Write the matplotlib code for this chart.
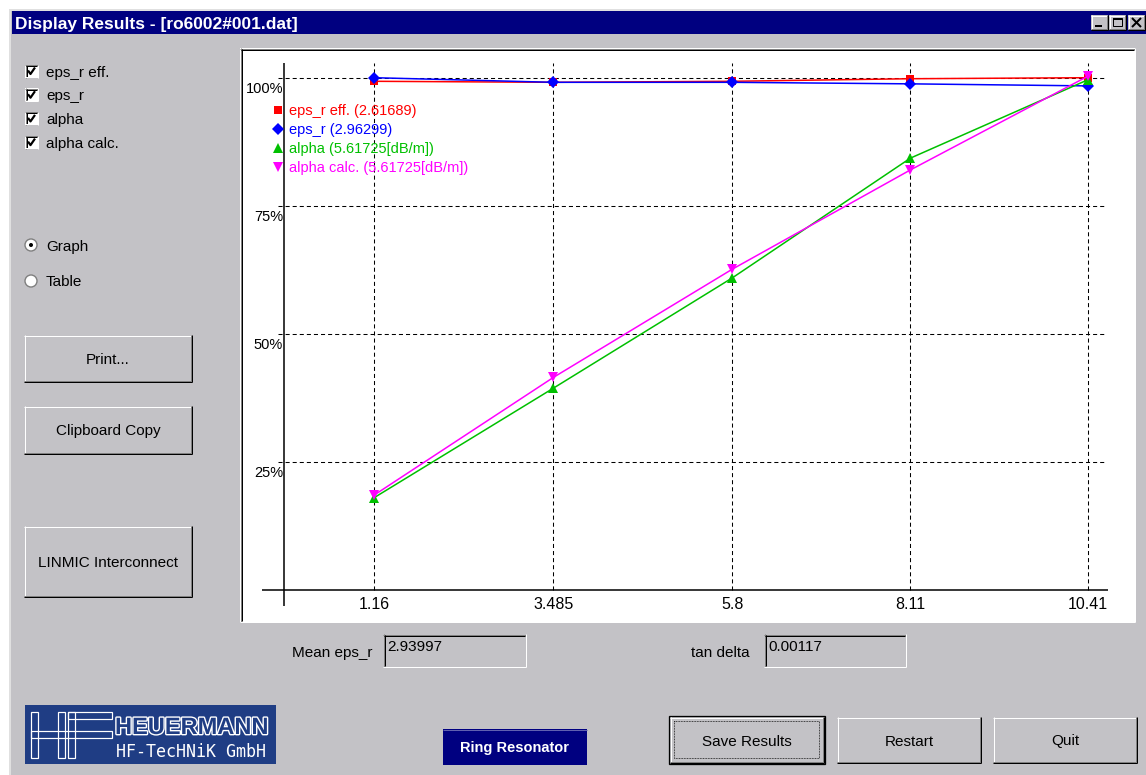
import matplotlib.pyplot as plt
import matplotlib.patheffects as pe
from matplotlib.patches import Rectangle, Circle
from matplotlib.lines import Line2D

plt.rcParams['font.family'] = ['Liberation Sans', 'DejaVu Sans']
NARROW = ['Liberation Sans Narrow', 'Liberation Sans', 'DejaVu Sans']

# ---- data (values normalised to the max, in %)
freq = [1.16, 3.485, 5.8, 8.11, 10.41]
freq_labels = ['1.16', '3.485', '5.8', '8.11', '10.41']
eps_r_eff = [99.3, 99.1, 99.3, 99.8, 100.0]
eps_r = [100.0, 99.1, 99.1, 98.8, 98.4]
alpha = [18.0, 39.4, 60.9, 84.3, 99.6]
alpha_calc = [18.5, 41.5, 62.6, 82.0, 100.3]
pct_ticks = [25, 50, 75, 100]
pct_labels = ['25%', '50%', '75%', '100%']

series = [eps_r_eff, eps_r, alpha, alpha_calc]
series_names = ['eps_r eff. (2.61689)', 'eps_r (2.96299)',
                'alpha (5.61725[dB/m])', 'alpha calc. (5.61725[dB/m])']
series_colors = ['#ff0000', '#0000ff', '#00c000', '#ff00ff']
series_markers = ['s', 'D', '^', 'v']
series_ms = [6, 6, 7, 7]

checkbox_labels = ['eps_r eff.', 'eps_r', 'alpha', 'alpha calc.']
mean_eps_r = '2.93997'
tan_delta = '0.00117'
title = 'Display Results - [ro6002#001.dat]'

W, H = 1146, 775
GRAY = '#c3c2c6'
DARK = '#808080'
NAVY = '#000080'
PX = 0.72  # points per pixel at dpi 100

fig = plt.figure(figsize=(W / 100, H / 100), dpi=100, facecolor='white')
ui = fig.add_axes([0, 0, 1, 1], zorder=0)
ui.set_xlim(0, W)
ui.set_ylim(H, 0)
ui.axis('off')


def line(xs, ys, c, lw=1, **kw):
    ui.plot(xs, ys, color=c, lw=lw * PX, solid_capstyle='butt', **kw)


def box(x0, y0, x1, y1, fc, ec='none', lw=0, **kw):
    ui.add_patch(Rectangle((x0, y0), x1 - x0, y1 - y0, fc=fc, ec=ec, lw=lw * PX, **kw))


def raised(x0, y0, x1, y1, label=None, default=False, size=11):
    box(x0, y0, x1, y1, GRAY)
    line([x0, x1], [y0 + .5, y0 + .5], 'white')
    line([x0 + .5, x0 + .5], [y0, y1], 'white')
    line([x0, x1], [y1 - 1.5, y1 - 1.5], DARK)
    line([x1 - 1.5, x1 - 1.5], [y0, y1], DARK)
    line([x0, x1], [y1 - .5, y1 - .5], 'black')
    line([x1 - .5, x1 - .5], [y0, y1], 'black')
    if default:
        box(x0 - 1, y0 - 1, x1 + 1, y1 + 1, 'none', 'black', 1.3)
        box(x0 + 4, y0 + 4, x1 - 5, y1 - 5, 'none', 'black', 0.8, ls=(0, (1, 1)))
    if label:
        ui.text((x0 + x1) / 2, (y0 + y1) / 2 + 5.5, label, ha='center', va='baseline',
                fontsize=size, color='black')


def sunken(x0, y0, x1, y1, fc):
    box(x0, y0, x1, y1, fc)
    line([x0, x1], [y0 + .5, y0 + .5], DARK)
    line([x0 + .5, x0 + .5], [y0, y1], DARK)
    line([x0 + 1, x1 - 1], [y0 + 1.5, y0 + 1.5], 'black')
    line([x0 + 1.5, x0 + 1.5], [y0 + 1, y1 - 1], 'black')
    line([x0, x1], [y1 - .5, y1 - .5], 'white')
    line([x1 - .5, x1 - .5], [y0, y1], 'white')


# ---- window frame + title bar
box(9, 9, W, H, GRAY)
line([9.5, 9.5], [9, H], '#e0e0e0', 2)
line([9, W], [9.5, 9.5], '#e0e0e0', 2)
box(12, 11, W, 34, NAVY)
ui.text(15, 28.5, title, color='white', fontsize=12.5, fontweight='bold', va='baseline')
for bx in [1091, 1109, 1128]:
    raised(bx, 15, bx + 17, 30)
line([1095, 1102], [26, 26], 'black', 2)
box(1113, 18, 1122, 26, 'none', 'black', 1)
line([1113, 1122], [18.5, 18.5], 'black', 2)
line([1132, 1141], [18, 27], 'black', 2)
line([1132, 1141], [27, 18], 'black', 2)

# ---- left control column
for i, lab in enumerate(checkbox_labels):
    cy = 71 + i * 23.7
    sunken(25, cy - 6.5, 38, cy + 6.5, 'white')
    line([28, 30.5, 35], [cy - 0.5, cy + 3, cy - 3.5], 'black', 2.2)
    ui.text(46, cy + 5.5, lab, fontsize=11, va='baseline')

for cy, lab, on in [(245, 'Graph', True), (281, 'Table', False)]:
    ui.add_patch(Circle((31, cy), 6, fc='white', ec=DARK, lw=1.4 * PX))
    if on:
        ui.add_patch(Circle((31, cy), 2, fc='black', ec='none'))
    ui.text(46, cy + 5.5, lab, fontsize=11, va='baseline')

raised(24, 335, 192, 382, 'Print...')
raised(24, 406, 192, 454, 'Clipboard Copy')
raised(24, 526, 192, 597, 'LINMIC Interconnect')

# ---- bottom row
ui.text(372, 657, 'Mean eps_r', fontsize=11, ha='right', va='baseline')
sunken(383, 634, 526, 667, GRAY)
ui.text(387, 651, mean_eps_r, fontsize=11, va='baseline', family=NARROW)
ui.text(750, 657, 'tan delta', fontsize=11, ha='right', va='baseline')
sunken(764, 634, 906, 667, GRAY)
ui.text(768, 651, tan_delta, fontsize=11, va='baseline', family=NARROW)

box(25, 705, 276, 764, '#1f3d84')
for (x0, y0, x1, y1) in [(31, 712, 38, 758), (58, 712, 65, 758), (31, 731, 112, 738),
                         (68, 712, 75, 758), (68, 712, 112, 719)]:
    box(x0, y0, x1, y1, 'none', 'white', 1.2)
ui.text(115, 734, 'HEUERMANN', fontsize=17, fontweight='bold', family=NARROW,
        color='#1f3d84', va='baseline',
        path_effects=[pe.withStroke(linewidth=2.0, foreground='white')])
ui.text(116, 757, 'HF-TecHNiK GmbH', fontsize=12, family='DejaVu Sans Mono',
        color='white', va='baseline')

box(443, 729, 587, 765, NAVY)
line([443, 587], [729.5, 729.5], '#6060b0')
ui.text(515, 752, 'Ring Resonator', color='white', fontsize=10.5, fontweight='bold',
        family=NARROW, ha='center', va='baseline')

raised(670, 717, 824, 763, 'Save Results', default=True)
raised(837, 717, 981, 763, 'Restart')
raised(993, 717, 1137, 763, 'Quit')

# ---- graph panel
sunken(240, 48, 1135, 622, 'white')

# chart axes placed over the panel (pixel extents of the drawn axis lines)
L, R, T, B = 262, 1108, 63, 606
ax = fig.add_axes([L / W, (H - B) / H, (R - L) / W, (B - T) / H], zorder=1)
ax.set_xlim(-0.29, 10.67)
ax.set_ylim(-3.12, 102.87)
ax.axis('off')

grid_kw = dict(colors='black', lw=0.75, linestyles=(0, (3.9, 2.9)), zorder=1)
ax.vlines(freq, 0, ax.get_ylim()[1], **grid_kw)
ax.hlines(pct_ticks, -0.08, 10.64, **grid_kw)
ax.axhline(0, color='black', lw=1.1, zorder=2)
ax.axvline(0, color='black', lw=1.1, zorder=2)

for x, lab in zip(freq, freq_labels):
    ax.annotate(lab, (x, 0), xytext=(0, -18.5 * PX), textcoords='offset points',
                ha='center', va='baseline', fontsize=11.5, family=NARROW)
for y, lab in zip(pct_ticks, pct_labels):
    ax.annotate(lab, (0, y), xytext=(-1.5 * PX, -15.5 * PX), textcoords='offset points',
                ha='right', va='baseline', fontsize=10.5)

handles = []
for vals, name, c, m, ms in zip(series, series_names, series_colors, series_markers, series_ms):
    ax.plot(freq, vals, color=c, lw=1.1, marker=m, ms=ms, mec=c, mew=0, zorder=3)
    handles.append(Line2D([], [], ls='none', marker=m, color=c, ms=ms, mew=0, label=name))

ax.legend(handles=handles, loc='upper left', bbox_to_anchor=((274 - L) / (R - L), (B - 104) / (B - T)),
          frameon=False, borderpad=0, borderaxespad=0, handlelength=0.6, handletextpad=0.45,
          labelspacing=0.34, fontsize=10.5, labelcolor='markerfacecolor')

fig.savefig('out.png', dpi=100)
